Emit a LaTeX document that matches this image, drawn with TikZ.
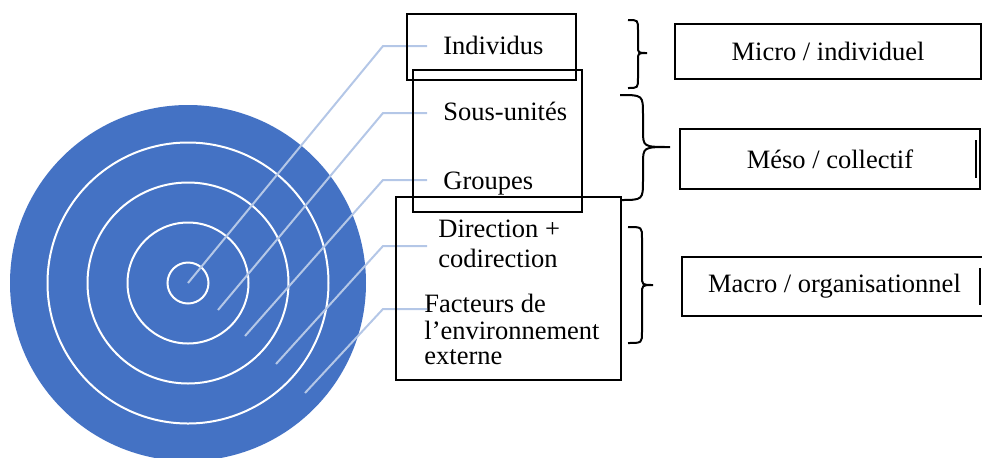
\documentclass[tikz,border=0pt]{standalone}
\usepackage{fontspec}
\setmainfont{Liberation Serif}
\definecolor{ringblue}{HTML}{4472C4}
\definecolor{leadblue}{HTML}{B4C7E7}
\begin{document}
\begin{tikzpicture}[x=0.5pt,y=-0.5pt,
  leader/.style={draw=leadblue, line width=1pt},
  lbl/.style={font=\fontsize{13.25}{14}\selectfont, inner sep=0pt, anchor=base west},
  grpbox/.style={draw=black, line width=1.2pt},
  lvlbox/.style={draw=black, line width=0.9pt, font=\fontsize{13.25}{14}\selectfont, inner sep=0pt},
  bracepath/.style={draw=black, line width=1pt},
  cursorbar/.style={draw=black, line width=1pt},
  ring/.style={draw=white, line width=1pt}]
\useasboundingbox (0,0) rectangle (982,457);
\clip (0,0) rectangle (982,457);
% target circle
\coordinate (ctr) at (188,283);
\fill[ringblue] (ctr) circle[radius=89pt];
\draw[ring] (ctr) circle[radius=70.25pt];
\draw[ring] (ctr) circle[radius=50.25pt];
\draw[ring] (ctr) circle[radius=30.25pt];
\draw[ring] (ctr) circle[radius=10.25pt];
% labels
\node[lbl] (ind) at (443,54) {Individus};
\node[lbl] (sous) at (443,120) {Sous-unités};
\node[lbl] (grp) at (443,189) {Groupes};
\node[lbl] (dir1) at (438,237) {Direction +};
\node[lbl] (dir2) at (438,267) {codirection};
\node[lbl] (fac1) at (424,312) {Facteurs de};
\node[lbl] (fac2) at (424,339) {l’environnement};
\node[lbl] (fac3) at (424,364) {externe};
% leader lines
\coordinate (s1) at (188,283); \coordinate (e1) at (383,46); \coordinate (t1) at (427,46);
\coordinate (s2) at (218,310); \coordinate (e2) at (383,113); \coordinate (t2) at (427,113);
\coordinate (s3) at (245,336); \coordinate (e3) at (383,180); \coordinate (t3) at (427,180);
\coordinate (s4) at (276,364); \coordinate (e4) at (383,246); \coordinate (t4) at (427,246);
\coordinate (s5) at (305,393); \coordinate (e5) at (383,309); \coordinate (t5) at (427,309);
\foreach \i in {1,...,5}{\draw[leader] (s\i) -- (e\i) -- (t\i);}
% grouping boxes
\draw[grpbox] (407,14) rectangle (576,80);
\draw[grpbox] (413,70) rectangle (582,212);
\draw[grpbox] (396,197) rectangle (621,380);
% braces
\draw[bracepath] (628,20) .. controls (638,20) and (638,20) .. (638,30) -- (638,46)
  .. controls (638,53) and (638,53) .. (647,53)
  .. controls (638,53) and (638,53) .. (638,60) -- (638,78)
  .. controls (638,88) and (638,88) .. (628,88);
\draw[bracepath] (620,95) .. controls (643,95) and (643,95) .. (643,115) -- (643,130)
  .. controls (643,147) and (643,147) .. (670,147)
  .. controls (643,147) and (643,147) .. (643,164) -- (643,180)
  .. controls (643,200) and (643,200) .. (620,200);
\draw[bracepath] (628,227) .. controls (642,227) and (642,227) .. (642,238) -- (642,276)
  .. controls (642,285) and (642,285) .. (653,285)
  .. controls (642,285) and (642,285) .. (642,294) -- (642,332)
  .. controls (642,343) and (642,343) .. (628,343);
% level boxes
\node[lvlbox, minimum width=153pt, minimum height=27.5pt] (micro) at (828,51.5) {Micro / individuel};
\node[lvlbox, minimum width=150pt, minimum height=30pt] (meso) at (830,159) {Méso / collectif};
\node[lvlbox, minimum width=152.5pt, minimum height=29.5pt] (macro) at (834.5,286.5) {Macro / organisationnel};
\draw[cursorbar] (976,140) -- (976,178);
\draw[cursorbar] (980,268) -- (980,305);
\end{tikzpicture}
\end{document}
